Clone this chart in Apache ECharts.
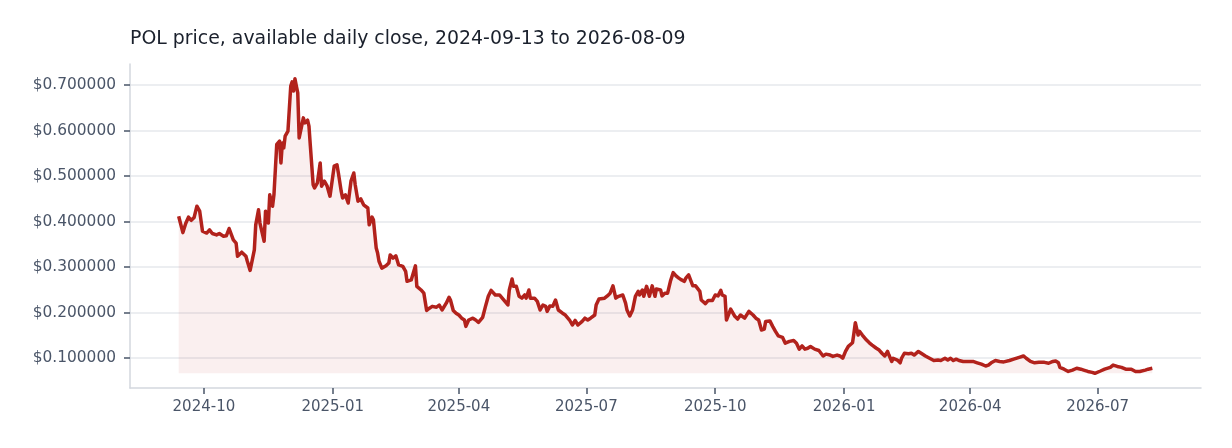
<!DOCTYPE html>
<html>
<head>
<meta charset="utf-8">
<title>POL price</title>
<script src="https://cdn.jsdelivr.net/npm/echarts@6/dist/echarts.min.js"></script>
<style>
  html, body { margin: 0; padding: 0; background: #fff; }
  #chart { width: 1232px; height: 448px; }
</style>
</head>
<body>
<div id="chart"></div>
<script>
// 数据：读图得到的日收盘价（近似）
const dates = [
  '2024-09-13','2024-09-16','2024-09-18','2024-09-20','2024-09-22','2024-09-24','2024-09-26','2024-09-28','2024-09-30',
  '2024-10-03','2024-10-05','2024-10-07','2024-10-10','2024-10-12','2024-10-15','2024-10-17','2024-10-19','2024-10-22',
  '2024-10-24','2024-10-25','2024-10-28','2024-10-31','2024-11-01','2024-11-03','2024-11-06','2024-11-07','2024-11-09',
  '2024-11-10','2024-11-13','2024-11-14','2024-11-16','2024-11-17','2024-11-19','2024-11-20','2024-11-21','2024-11-22',
  '2024-11-24','2024-11-25','2024-11-26','2024-11-27','2024-11-28','2024-11-30','2024-12-02','2024-12-03','2024-12-04',
  '2024-12-05','2024-12-06','2024-12-07','2024-12-08','2024-12-09','2024-12-11','2024-12-12','2024-12-14','2024-12-15',
  '2024-12-16','2024-12-18','2024-12-19','2024-12-21','2024-12-23','2024-12-24','2024-12-26','2024-12-28','2024-12-30',
  '2025-01-02','2025-01-04','2025-01-05','2025-01-07','2025-01-08','2025-01-10','2025-01-12','2025-01-14','2025-01-16',
  '2025-01-17','2025-01-19','2025-01-21','2025-01-23','2025-01-26','2025-01-27','2025-01-29','2025-01-30','2025-02-01',
  '2025-02-02','2025-02-03','2025-02-05','2025-02-08','2025-02-10','2025-02-11','2025-02-13','2025-02-15','2025-02-17',
  '2025-02-20','2025-02-22','2025-02-23','2025-02-26','2025-02-27','2025-03-01','2025-03-02','2025-03-05','2025-03-07',
  '2025-03-09','2025-03-11','2025-03-13','2025-03-16','2025-03-18','2025-03-20','2025-03-23','2025-03-25','2025-03-26',
  '2025-03-28','2025-03-30','2025-04-01','2025-04-03','2025-04-05','2025-04-06','2025-04-08','2025-04-11','2025-04-13',
  '2025-04-15','2025-04-18','2025-04-20','2025-04-22','2025-04-24','2025-04-27','2025-04-30','2025-05-03','2025-05-06',
  '2025-05-07','2025-05-09','2025-05-10','2025-05-12','2025-05-14','2025-05-16','2025-05-18','2025-05-19','2025-05-21',
  '2025-05-22','2025-05-25','2025-05-27','2025-05-29','2025-05-31','2025-06-02','2025-06-03','2025-06-05','2025-06-07',
  '2025-06-09','2025-06-11','2025-06-14','2025-06-16','2025-06-19','2025-06-21','2025-06-23','2025-06-25','2025-06-28',
  '2025-06-30','2025-07-02','2025-07-04','2025-07-07','2025-07-08','2025-07-10','2025-07-14','2025-07-16','2025-07-18',
  '2025-07-20','2025-07-22','2025-07-24','2025-07-27','2025-07-29','2025-07-30','2025-08-01','2025-08-03','2025-08-05',
  '2025-08-07','2025-08-08','2025-08-10','2025-08-11','2025-08-13','2025-08-15','2025-08-17','2025-08-19','2025-08-20',
  '2025-08-23','2025-08-24','2025-08-26','2025-08-28','2025-08-30','2025-09-01','2025-09-03','2025-09-05','2025-09-07',
  '2025-09-09','2025-09-10','2025-09-12','2025-09-15','2025-09-17','2025-09-20','2025-09-21','2025-09-24','2025-09-26',
  '2025-09-29','2025-10-01','2025-10-03','2025-10-05','2025-10-06','2025-10-08','2025-10-09','2025-10-12','2025-10-15',
  '2025-10-17','2025-10-19','2025-10-22','2025-10-25','2025-10-28','2025-10-30','2025-11-01','2025-11-03','2025-11-05',
  '2025-11-06','2025-11-09','2025-11-11','2025-11-13','2025-11-15','2025-11-18','2025-11-20','2025-11-23','2025-11-26',
  '2025-11-28','2025-11-30','2025-12-02','2025-12-04','2025-12-06','2025-12-08','2025-12-11','2025-12-14','2025-12-17',
  '2025-12-19','2025-12-22','2025-12-24','2025-12-27','2025-12-29','2025-12-31','2026-01-02','2026-01-04','2026-01-07',
  '2026-01-08','2026-01-09','2026-01-11','2026-01-12','2026-01-14','2026-01-17','2026-01-19','2026-01-21','2026-01-24',
  '2026-01-26','2026-01-28','2026-01-30','2026-02-01','2026-02-02','2026-02-04','2026-02-05','2026-02-08','2026-02-10',
  '2026-02-11','2026-02-13','2026-02-16','2026-02-18','2026-02-20','2026-02-23','2026-02-25','2026-02-28','2026-03-03',
  '2026-03-06','2026-03-09','2026-03-11','2026-03-14','2026-03-16','2026-03-18','2026-03-20','2026-03-22','2026-03-24',
  '2026-03-27','2026-03-30','2026-04-03','2026-04-06','2026-04-09','2026-04-12','2026-04-14','2026-04-16','2026-04-19',
  '2026-04-22','2026-04-25','2026-04-29','2026-05-02','2026-05-06','2026-05-09','2026-05-11','2026-05-14','2026-05-17',
  '2026-05-20','2026-05-24','2026-05-27','2026-05-30','2026-06-01','2026-06-03','2026-06-04','2026-06-07','2026-06-10',
  '2026-06-13','2026-06-16','2026-06-19','2026-06-21','2026-06-24','2026-06-27','2026-06-29','2026-07-03','2026-07-06',
  '2026-07-10','2026-07-12','2026-07-15','2026-07-18','2026-07-21','2026-07-25','2026-07-28','2026-07-31','2026-08-04',
  '2026-08-06','2026-08-09'
];
const prices = [
  0.412,0.376,0.396,0.410,0.403,0.409,0.434,0.423,0.379,
  0.375,0.382,0.374,0.371,0.374,0.368,0.369,0.385,0.360,
  0.353,0.324,0.333,0.324,0.313,0.293,0.338,0.393,0.426,
  0.397,0.357,0.423,0.397,0.459,0.434,0.459,0.514,0.570,
  0.577,0.529,0.573,0.562,0.588,0.599,0.698,0.707,0.687,
  0.714,0.698,0.683,0.584,0.580,0.628,0.617,0.623,0.610,
  0.566,0.481,0.474,0.485,0.529,0.478,0.489,0.478,0.456,
  0.522,0.525,0.507,0.467,0.452,0.459,0.441,0.489,0.507,
  0.481,0.445,0.450,0.437,0.430,0.393,0.410,0.404,0.342,
  0.331,0.313,0.298,0.303,0.309,0.327,0.320,0.325,0.305,
  0.302,0.291,0.269,0.272,0.276,0.303,0.258,0.250,0.243,
  0.205,0.210,0.214,0.212,0.217,0.206,0.221,0.234,0.228,
  0.205,0.199,0.195,0.188,0.184,0.170,0.184,0.188,0.184,
  0.179,0.190,0.214,0.236,0.249,0.239,0.239,0.228,0.217,
  0.250,0.274,0.258,0.258,0.236,0.232,0.239,0.232,0.250,
  0.232,0.232,0.225,0.206,0.217,0.214,0.203,0.215,0.214,
  0.228,0.206,0.199,0.195,0.184,0.173,0.183,0.173,0.181,
  0.188,0.184,0.188,0.195,0.217,0.230,0.232,0.237,0.243,
  0.259,0.232,0.236,0.239,0.221,0.206,0.193,0.206,0.236,
  0.247,0.239,0.250,0.236,0.258,0.236,0.259,0.236,0.252,
  0.250,0.237,0.243,0.243,0.269,0.288,0.281,0.276,0.272,
  0.269,0.276,0.283,0.259,0.259,0.247,0.228,0.220,0.227,
  0.227,0.239,0.237,0.249,0.239,0.236,0.184,0.208,0.192,
  0.186,0.195,0.188,0.203,0.195,0.188,0.184,0.162,0.164,
  0.181,0.182,0.170,0.159,0.149,0.146,0.133,0.137,0.139,
  0.133,0.120,0.127,0.120,0.122,0.126,0.120,0.117,0.105,
  0.109,0.107,0.104,0.107,0.105,0.100,0.115,0.126,0.134,
  0.155,0.178,0.151,0.159,0.151,0.140,0.134,0.129,0.122,
  0.118,0.111,0.105,0.115,0.107,0.093,0.100,0.096,0.090,
  0.100,0.111,0.110,0.111,0.107,0.115,0.111,0.105,0.100,
  0.095,0.096,0.095,0.100,0.096,0.100,0.095,0.098,0.095,
  0.093,0.093,0.093,0.090,0.087,0.083,0.085,0.090,0.095,
  0.093,0.092,0.095,0.098,0.102,0.105,0.100,0.093,0.090,
  0.091,0.091,0.089,0.093,0.094,0.090,0.080,0.076,0.071,
  0.074,0.078,0.076,0.074,0.071,0.069,0.067,0.072,0.076,
  0.080,0.085,0.082,0.080,0.076,0.076,0.071,0.071,0.074,
  0.076,0.078
];
const xTickLabels = ['2024-10-01','2025-01-01','2025-04-01','2025-07-01','2025-10-01','2026-01-01','2026-04-01','2026-07-01'];
const yTickValues = [0.1, 0.2, 0.3, 0.4, 0.5, 0.6, 0.7];

const ts = dates.map(d => Date.parse(d));
const seriesData = ts.map((t, i) => [t, prices[i]]);
const xTickValues = xTickLabels.map(d => Date.parse(d));

// matplotlib 风格的 5% 边距
const tMin = ts[0], tMax = ts[ts.length - 1];
const tPad = (tMax - tMin) * 0.05;
const pMin = Math.min(...prices), pMax = Math.max(...prices);
const pPad = (pMax - pMin) * 0.05;

const pad2 = n => (n < 10 ? '0' : '') + n;
const labelColor = '#4a5568';
const font = 'DejaVu Sans';

const myChart = echarts.init(document.getElementById('chart'), null, { renderer: 'canvas' });
const option = {
  animation: false,
  backgroundColor: '#ffffff',
  title: {
    text: 'POL price, available daily close, 2024-09-13 to 2026-08-09',
    left: 130,
    top: 30,
    padding: 0,
    textStyle: { fontFamily: font, fontSize: 18.9, fontWeight: 'normal', color: '#1a202c' }
  },
  grid: { left: 130, right: 31, top: 64, bottom: 60, containLabel: false },
  xAxis: {
    // 时间戳用数值轴，季度刻度
    type: 'value',
    min: tMin - tPad,
    max: tMax + tPad,
    axisLine: { show: true, lineStyle: { color: '#d3d7de', width: 1.5 } },
    axisTick: {
      show: true,
      length: 6,
      customValues: xTickValues,
      lineStyle: { color: labelColor, width: 1.5 }
    },
    axisLabel: {
      customValues: xTickValues,
      fontFamily: font,
      fontSize: 15,
      color: labelColor,
      margin: 12,
      formatter: v => {
        const d = new Date(v);
        return d.getUTCFullYear() + '-' + pad2(d.getUTCMonth() + 1);
      }
    },
    splitLine: { show: false }
  },
  yAxis: {
    type: 'value',
    min: pMin - pPad,
    max: pMax + pPad,
    axisLine: { show: true, lineStyle: { color: '#d3d7de', width: 1.5 } },
    axisTick: {
      show: true,
      length: 6,
      customValues: yTickValues,
      lineStyle: { color: labelColor, width: 1.5 }
    },
    axisLabel: {
      customValues: yTickValues,
      fontFamily: font,
      fontSize: 15.4,
      color: labelColor,
      margin: 14,
      formatter: v => '$' + v.toFixed(6)
    },
    splitLine: { show: true, lineStyle: { color: '#e6e8ec', width: 1.5 } }
  },
  series: [
    {
      name: 'POL',
      type: 'line',
      data: seriesData,
      showSymbol: false,
      symbol: 'none',
      lineStyle: { color: '#b2221c', width: 3.5, join: 'round' },
      itemStyle: { color: '#b2221c' },
      areaStyle: { color: 'rgba(178,34,28,0.1)', origin: pMin }
    }
  ]
};
myChart.setOption(option);
</script>
</body>
</html>
